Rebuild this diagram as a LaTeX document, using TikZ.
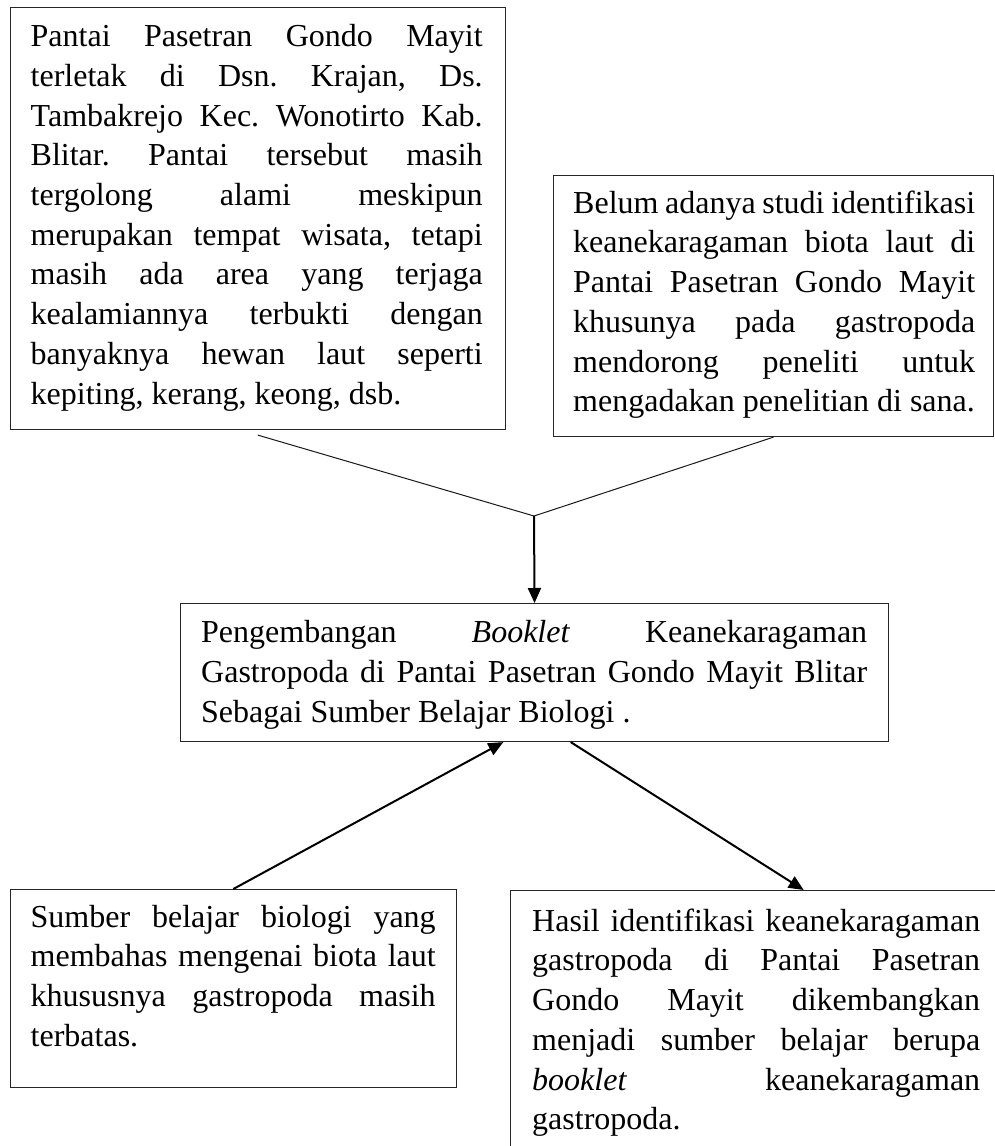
\documentclass[tikz,border=0pt]{standalone}
\usepackage{fontspec}
\setmainfont{Liberation Serif}
\usetikzlibrary{arrows.meta,calc}
\tolerance=10000
\hyphenpenalty=10000
\exhyphenpenalty=10000
\frenchspacing
\begin{document}
\begin{tikzpicture}[x=1pt,y=-1pt,
  box/.style={draw=black!85,line width=1.1pt,inner sep=0pt,anchor=north west},
  txt/.style={inner sep=0pt,anchor=north west,align=justify,
    font=\fontsize{32pt}{39.7pt}\selectfont\frenchspacing},
  thin/.style={line width=1pt,black!90},
  arr/.style={line width=2pt,-{Triangle[length=15pt,width=13pt]}}]
\useasboundingbox (0,0) rectangle (995,1146);
\fill[white] (0,0) rectangle (995,1146);
% boxes
\node[box,minimum width=495.5pt,minimum height=422pt] (A) at (9.5,7) {};
\node[box,minimum width=440pt,minimum height=261pt] (B) at (553,175) {};
\node[box,minimum width=708pt,minimum height=138pt] (C) at (180,603) {};
\node[box,minimum width=446.5pt,minimum height=198pt] (D) at (9.5,889) {};
\node[box,minimum width=490pt,minimum height=270pt] (E) at (510,890) {};
% texts
\node[txt,text width=452pt] (At) at (30.5,21.5) {\rule{0pt}{25pt}Pantai Pasetran Gondo Mayit\linebreak
terletak di Dsn. Krajan, Ds.\linebreak
Tambakrejo Kec. Wonotirto Kab.\linebreak
Blitar. Pantai tersebut masih\linebreak
tergolong alami meskipun\linebreak
merupakan tempat wisata, tetapi\linebreak
masih ada area yang terjaga\linebreak
kealamiannya terbukti dengan\linebreak
banyaknya hewan laut seperti\linebreak
kepiting, kerang, keong, dsb.};
\node[txt,text width=402pt] (Bt) at (573,188) {\rule{0pt}{25pt}Belum adanya studi identifikasi\linebreak
keanekaragaman biota laut di\linebreak
Pantai Pasetran Gondo Mayit\linebreak
khusunya pada gastropoda\linebreak
mendorong peneliti untuk\linebreak
mengadakan penelitian di sana.};
\node[txt,text width=666pt] (Ct) at (201,617.5) {\rule{0pt}{25pt}Pengembangan \textit{Booklet} Keanekaragaman\linebreak
Gastropoda di Pantai Pasetran Gondo Mayit Blitar\linebreak
Sebagai Sumber Belajar Biologi .};
\node[txt,text width=405pt] (Dt) at (30.5,902) {\rule{0pt}{25pt}Sumber belajar biologi yang\linebreak
membahas mengenai biota laut\linebreak
khususnya gastropoda masih\linebreak
terbatas.};
\node[txt,text width=448pt] (Et) at (532,906) {\rule{0pt}{25pt}Hasil identifikasi keanekaragaman\linebreak
gastropoda di Pantai Pasetran\linebreak
Gondo Mayit dikembangkan\linebreak
menjadi sumber belajar berupa\linebreak
\textit{booklet} keanekaragaman\linebreak
gastropoda.};
% connectors
\coordinate (J) at (534,516);
\coordinate (Cin) at ($(C.south west)!0.456!(C.south east)$);
\coordinate (Cout) at ($(C.south west)!0.551!(C.south east)$);
\coordinate (Ein) at ($(E.north west)!0.598!(E.north east)$);
\draw[thin] ([yshift=-5pt]A.south) -- (J);
\draw[thin] (B.south) -- (J);
\draw[arr] (J) -- (C.north);
\draw[arr] (D.north) -- (Cin);
\draw[arr] (Cout) -- (Ein);
\end{tikzpicture}
\end{document}
